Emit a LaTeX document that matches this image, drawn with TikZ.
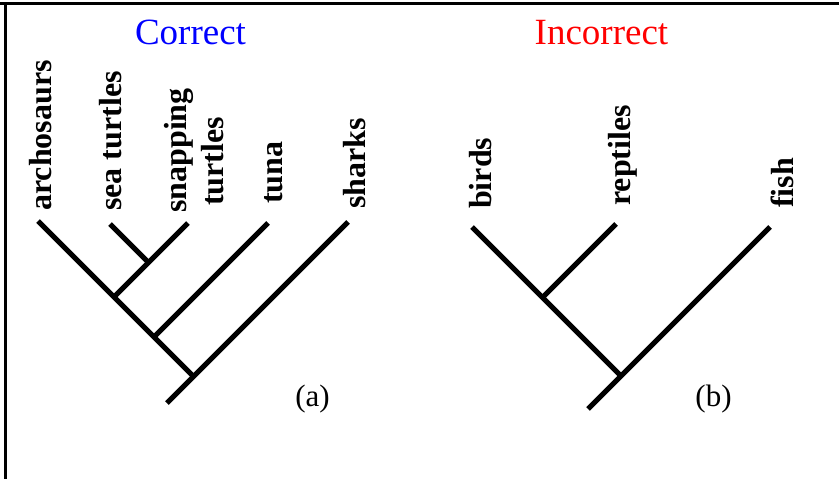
\documentclass[tikz,border=0pt]{standalone}
\usepackage{fontspec}
\setmainfont{Liberation Serif}
\begin{document}
\begin{tikzpicture}[x=1pt,y=-1pt,
  branch/.style={line width=5pt},
  frame/.style={line width=3.2pt},
  taxon/.style={rotate=90,anchor=base west,inner sep=0pt,font=\fontsize{32}{36}\selectfont\bfseries},
  title/.style={anchor=base,inner sep=0pt,font=\fontsize{37}{40}\selectfont},
  panel/.style={anchor=base,inner sep=0pt,font=\fontsize{31}{34}\selectfont}]
\useasboundingbox (0,0) rectangle (839,479);
% frame (top and left edges)
\coordinate (ftl) at (5.5,3.5);
\coordinate (ftr) at (839,3.5);
\coordinate (fbl) at (5.5,479);
\draw[frame] (ftr) -- (5.5,3.5) -- (fbl);
\draw[frame] (0,3.5) -- (ftl);
% titles
\node[title,text={rgb,255:red,0;green,0;blue,255}] (tc) at (190.5,45) {Correct};
\node[title,text={rgb,255:red,255;green,0;blue,0}] (ti) at (601.5,45) {Incorrect};
% ---------- tree (a) ----------
\coordinate (aArch) at (38,221);
\coordinate (aSea) at (110,224);
\coordinate (aSnap) at (188,223);
\coordinate (aTuna) at (268,223);
\coordinate (aShark) at (348,222);
\coordinate (aBot) at (167,403);
\coordinate (aRoot) at (193.5,376.5);
\coordinate (aN1) at (154,337);
\coordinate (aN2) at (114,297);
\coordinate (aN3) at (148.5,262.5);
\draw[branch] (aArch) -- (aRoot);
\draw[branch] (aShark) -- (aBot);
\draw[branch] (aTuna) -- (aN1);
\draw[branch] (aSnap) -- (aN2);
\draw[branch] (aSea) -- (aN3);
\node[taxon] (lArch) at (51,211) {archosaurs};
\node[taxon] (lSea) at (121,211) {sea turtles};
\node[taxon] (lSnap) at (186,213) {snapping};
\node[taxon] (lTurt) at (223,206) {turtles};
\node[taxon] (lTuna) at (282,204) {tuna};
\node[taxon] (lShark) at (365,209) {sharks};
\node[panel] (pa) at (312.5,406) {(a)};
% ---------- tree (b) ----------
\coordinate (bBird) at (472,227);
\coordinate (bRept) at (616,224);
\coordinate (bFish) at (770,227);
\coordinate (bBot) at (588,409);
\coordinate (bRoot) at (621,376);
\coordinate (bN1) at (542.5,297.5);
\draw[branch] (bBird) -- (bRoot);
\draw[branch] (bFish) -- (bBot);
\draw[branch] (bRept) -- (bN1);
\node[taxon] (lBird) at (491,209) {birds};
\node[taxon] (lRept) at (630,206) {reptiles};
\node[taxon] (lFish) at (793,208) {fish};
\node[panel] (pb) at (713.5,406) {(b)};
\end{tikzpicture}
\end{document}
